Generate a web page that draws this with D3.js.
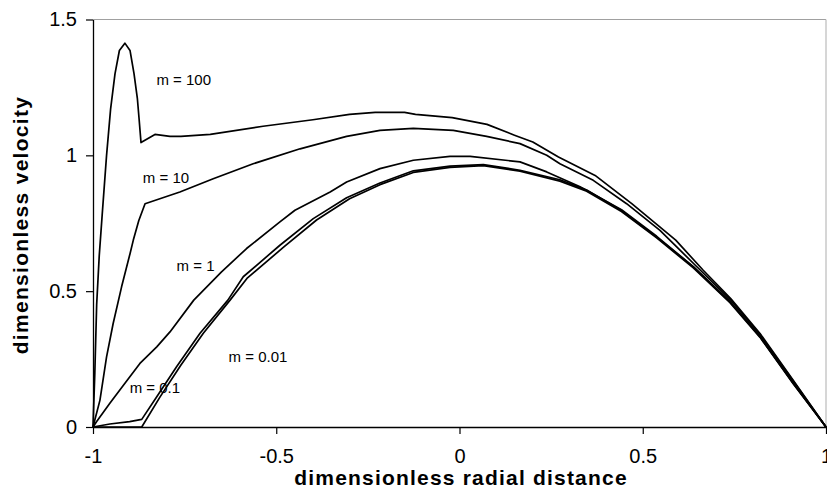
<!DOCTYPE html>
<html>
<head>
<meta charset="utf-8">
<script src="https://cdn.jsdelivr.net/npm/d3@7/dist/d3.min.js"></script>
<style>
  html, body { margin: 0; padding: 0; background: #fff; }
  svg { display: block; font-family: "Liberation Sans", Arial, sans-serif; }
</style>
</head>
<body>
<svg id="chart" width="827" height="496"></svg>
<script>
// ---- data ----
const xTicks = [-1, -0.5, 0, 0.5, 1];
const xTickLabels = ["-1", "-0.5", "0", "0.5", "1"];
const yTicks = [0, 0.5, 1, 1.5];
const yTickLabels = ["0", "0.5", "1", "1.5"];

const m100_x = [-1, -0.995, -0.99, -0.983, -0.975, -0.963, -0.952, -0.94, -0.928, -0.913, -0.899, -0.888, -0.879, -0.874, -0.869, -0.831, -0.79, -0.76, -0.68, -0.536, -0.4, -0.3, -0.23, -0.15, -0.12, -0.02, 0.04, 0.075, 0.15, 0.2, 0.27, 0.37, 0.47, 0.59, 0.665, 0.74, 0.82, 0.91, 1];
const m100_y = [0, 0.2, 0.45, 0.63, 0.78, 1.0, 1.17, 1.3, 1.386, 1.413, 1.386, 1.3, 1.21, 1.13, 1.047, 1.077, 1.07, 1.07, 1.077, 1.107, 1.131, 1.151, 1.158, 1.158, 1.151, 1.139, 1.123, 1.114, 1.074, 1.049, 0.994, 0.926, 0.822, 0.688, 0.577, 0.473, 0.344, 0.173, 0];

const m10_x = [-1, -0.981, -0.963, -0.945, -0.922, -0.899, -0.89, -0.875, -0.858, -0.763, -0.672, -0.563, -0.435, -0.308, -0.217, -0.126, -0.017, 0.074, 0.165, 0.238, 0.274, 0.365, 0.456, 0.547, 0.64, 0.738, 0.82, 0.911, 1];
const m10_y = [0, 0.099, 0.258, 0.381, 0.516, 0.638, 0.688, 0.76, 0.822, 0.865, 0.914, 0.969, 1.024, 1.07, 1.092, 1.099, 1.092, 1.07, 1.043, 1.0, 0.969, 0.908, 0.822, 0.724, 0.6, 0.47, 0.34, 0.168, 0];

const m1_x = [-1, -0.99, -0.954, -0.917, -0.872, -0.826, -0.79, -0.725, -0.65, -0.581, -0.49, -0.449, -0.353, -0.308, -0.217, -0.126, -0.026, 0.029, 0.165, 0.238, 0.329, 0.442, 0.538, 0.638, 0.738, 0.82, 0.911, 1];
const m1_y = [0, 0.02, 0.087, 0.154, 0.234, 0.295, 0.35, 0.467, 0.57, 0.657, 0.755, 0.798, 0.865, 0.902, 0.951, 0.982, 0.996, 0.996, 0.976, 0.939, 0.884, 0.8, 0.702, 0.59, 0.462, 0.333, 0.162, 0];

const m01_x = [-1, -0.954, -0.9, -0.867, -0.826, -0.772, -0.708, -0.632, -0.59, -0.49, -0.399, -0.308, -0.217, -0.126, -0.026, 0.065, 0.165, 0.274, 0.347, 0.442, 0.538, 0.638, 0.738, 0.82, 0.911, 1];
const m01_y = [0, 0.011, 0.02, 0.028, 0.111, 0.222, 0.345, 0.467, 0.553, 0.669, 0.767, 0.844, 0.898, 0.943, 0.96, 0.966, 0.945, 0.91, 0.872, 0.797, 0.699, 0.589, 0.46, 0.332, 0.16, 0];

const m001_x = [-1, -0.867, -0.817, -0.76, -0.699, -0.626, -0.58, -0.48, -0.39, -0.3, -0.217, -0.126, -0.026, 0.065, 0.165, 0.274, 0.347, 0.442, 0.538, 0.638, 0.738, 0.82, 0.911, 1];
const m001_y = [0, 0, 0.111, 0.228, 0.345, 0.467, 0.547, 0.662, 0.762, 0.84, 0.892, 0.937, 0.956, 0.962, 0.942, 0.905, 0.868, 0.793, 0.696, 0.586, 0.458, 0.33, 0.158, 0];

const seriesNames = ["m = 100", "m = 10", "m = 1", "m = 0.1", "m = 0.01"];
const seriesX = [m100_x, m10_x, m1_x, m01_x, m001_x];
const seriesY = [m100_y, m10_y, m1_y, m01_y, m001_y];
// label anchor positions in data units
const labelX = [-0.827, -0.864, -0.772, -0.9, -0.63];
const labelY = [1.26, 0.9, 0.575, 0.125, 0.24];

const xTitle = "dimensionless radial distance";
const yTitle = "dimensionless velocity";

// ---- drawing ----
const svg = d3.select("#chart");
const x = d3.scaleLinear().domain([-1, 1]).range([93, 826]);
const y = d3.scaleLinear().domain([0, 1.5]).range([427, 19.5]);

// plot area border (top and right, gray)
svg.append("line").attr("x1", x(-1)).attr("x2", x(1)).attr("y1", y(1.5)).attr("y2", y(1.5))
  .attr("stroke", "#a0a0a0").attr("stroke-width", 1.2);
svg.append("line").attr("x1", x(1)).attr("x2", x(1)).attr("y1", y(1.5)).attr("y2", y(0))
  .attr("stroke", "#bbbbbb").attr("stroke-width", 1.2);

// axes
const xAxis = d3.axisBottom(x).tickValues(xTicks).tickFormat((d, i) => xTickLabels[i])
  .tickSizeInner(7).tickSizeOuter(0).tickPadding(15);
const yAxis = d3.axisLeft(y).tickValues(yTicks).tickFormat((d, i) => yTickLabels[i])
  .tickSizeInner(7).tickSizeOuter(0).tickPadding(9);

const gx = svg.append("g").attr("transform", `translate(0,${y(0)})`).call(xAxis);
const gy = svg.append("g").attr("transform", `translate(${x(-1)},0)`).call(yAxis);
[gx, gy].forEach(g => {
  g.select(".domain").attr("stroke", "#000").attr("stroke-width", 1.3);
  g.selectAll(".tick line").attr("stroke", "#000").attr("stroke-width", 1.2);
  g.selectAll(".tick text").attr("fill", "#000")
    .style("font-family", "'Liberation Sans', Arial, sans-serif").style("font-size", "20px");
});

// series lines
const line = d3.line().x(d => x(d[0])).y(d => y(d[1]));
seriesX.forEach((xs, i) => {
  const pts = xs.map((v, j) => [v, seriesY[i][j]]);
  svg.append("path").datum(pts).attr("d", line)
    .attr("fill", "none").attr("stroke", "#000").attr("stroke-width", 1.7)
    .attr("stroke-linejoin", "round");
});

// series labels
seriesNames.forEach((name, i) => {
  svg.append("text").attr("x", x(labelX[i])).attr("y", y(labelY[i]))
    .attr("font-size", 15).attr("fill", "#000").text(name);
});

// titles
svg.append("text").attr("x", 461).attr("y", 485).attr("text-anchor", "middle")
  .attr("font-size", 21).attr("font-weight", "bold").attr("letter-spacing", 1.2).text(xTitle);
svg.append("text").attr("transform", "translate(28,225) rotate(-90)").attr("text-anchor", "middle")
  .attr("font-size", 21).attr("font-weight", "bold").attr("letter-spacing", 1.3).text(yTitle);
</script>
</body>
</html>
